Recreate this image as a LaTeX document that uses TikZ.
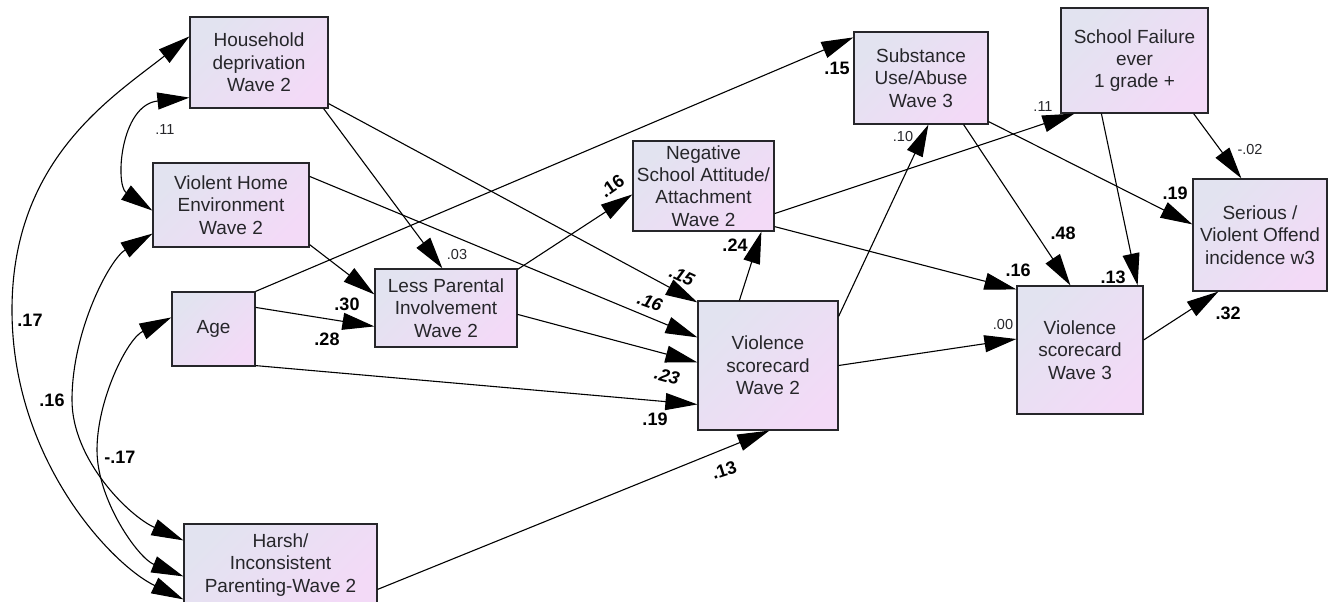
\documentclass[tikz,border=0pt]{standalone}
\usepackage{fontspec}
\setmainfont{Liberation Sans}
\usetikzlibrary{arrows.meta,calc}
\definecolor{boxA}{RGB}{226,227,240}
\definecolor{boxB}{RGB}{243,218,247}
\definecolor{ink}{RGB}{38,38,42}
\begin{document}
\begin{tikzpicture}[x=1pt,y=-1pt,
  var/.style={draw=ink, line width=1.2pt, top color=boxA, bottom color=boxB,
    shading angle=45, text=ink, align=center, inner sep=0pt,
    font=\fontsize{19}{22.3}\selectfont},
  tip/.tip={Triangle[length=32pt,width=17pt]},
  effect/.style={line width=1.1pt, -tip},
  covar/.style={line width=1.1pt, tip-tip},
  coef/.style={font=\bfseries\fontsize{18}{18}\selectfont, text=black, inner sep=0pt},
  slant/.style={font=\bfseries\itshape\fontsize{18}{18}\selectfont, text=black, inner sep=0pt},
  weak/.style={font=\fontsize{14.5}{14.5}\selectfont, text=ink, inner sep=0pt},
]
\useasboundingbox (0,0) rectangle (1328,602);

% observed variables
\node[var, minimum width=138pt, minimum height=91pt]  (HH)  at (259,62.5)   {Household\\deprivation\\Wave 2};
\node[var, minimum width=156pt, minimum height=84pt]  (VH)  at (231,205)    {Violent Home\\Environment\\Wave 2};
\node[var, minimum width=83pt,  minimum height=74pt]  (AG)  at (213.5,329)  {Age};
\node[var, minimum width=142pt, minimum height=78pt]  (LP)  at (446,308)    {Less Parental\\Involvement\\Wave 2};
\node[var, minimum width=193pt, minimum height=82pt]  (HP)  at (280.5,565)  {Harsh/\\Inconsistent\\Parenting-Wave 2};
\node[var, minimum width=141pt, minimum height=90pt]  (NS)  at (703.5,186)  {Negative\\School Attitude/\\Attachment\\Wave 2};
\node[var, minimum width=140pt, minimum height=129pt] (VW2) at (768,365.5)  {Violence\\scorecard\\Wave 2};
\node[var, minimum width=134pt, minimum height=92pt]  (SU)  at (921,78)     {Substance\\Use/Abuse\\Wave 3};
\node[var, minimum width=147pt, minimum height=105pt] (SF)  at (1134.5,60.5){School Failure\\ever\\1 grade +};
\node[var, minimum width=134pt, minimum height=112pt] (SV)  at (1260,235)   {Serious /\\Violent Offend\\incidence w3};
\node[var, minimum width=126pt, minimum height=128pt] (VW3) at (1080,350)   {Violence\\scorecard\\Wave 3};

% directed paths
\draw[effect] ($(HH.south east)+(-5,0)$)  -- ($(LP.north west)+(68,0)$);
\draw[effect] ($(HH.south east)+(0,-5)$)  -- ($(VW2.north west)+(0,2)$);
\draw[effect] ($(VH.north east)+(0,14)$)  -- ($(VW2.north west)+(0,37)$);
\draw[effect] ($(VH.south east)+(0,-3)$)  -- ($(LP.north west)+(0,26)$);
\draw[effect] ($(AG.north east)+(0,16)$)  -- ($(LP.north west)+(0,58)$);
\draw[effect] (AG.north east)             -- ($(SU.north west)+(0,6)$);
\draw[effect] ($(AG.south east)+(0,-1)$)  -- ($(VW2.north west)+(0,104)$);
\draw[effect] ($(LP.north east)+(0,1)$)   -- ($(NS.north west)+(0,54)$);
\draw[effect] ($(LP.north east)+(0,46)$)  -- ($(VW2.north west)+(0,62)$);
\draw[effect] ($(HP.north east)+(0,66)$)  -- ($(VW2.south west)+(72,0)$);
\draw[effect] ($(VW2.north west)+(42,0)$) -- ($(NS.south west)+(129,0)$);
\draw[effect] ($(VW2.north east)+(0,16)$) -- ($(SU.south west)+(75,0)$);
\draw[effect] (VW2.east)                  -- ($(VW3.west)+(0,-11)$);
\draw[effect] ($(NS.south east)+(0,-5)$)  -- ($(VW3.north west)+(0,4)$);
\draw[effect] ($(NS.south east)+(0,-18)$) -- ($(SF.south west)+(14,0)$);
\draw[effect] ($(SU.south east)+(-25,0)$) -- ($(VW3.north west)+(54,0)$);
\draw[effect] ($(SU.south east)+(0,-3)$)  -- ($(SV.north west)+(0,46)$);
\draw[effect] ($(SF.south west)+(41,0)$)  -- ($(VW3.north east)+(-6,0)$);
\draw[effect] ($(SF.south east)+(-15,0)$) -- ($(SV.north west)+(49,0)$);
\draw[effect] ($(VW3.east)+(0,-10)$)      -- ($(SV.south west)+(26,0)$);

% correlations among the exogenous variables
\draw[covar] ($(HH.south west)+(0,-11)$) .. controls (120,105) and (115,185) .. ($(VH.south west)+(0,-37)$);
\draw[covar] ($(HH.north west)+(0,20)$) .. controls (111,98) and (12,160) .. (12,310)
             .. controls (12,460) and (112,565) .. ($(HP.north west)+(0,76)$);
\draw[covar] ($(VH.south west)+(0,-14)$) .. controls (110,259) and (72,330) .. (72,400)
             .. controls (72,460) and (129,516) .. ($(HP.north west)+(0,17)$);
\draw[covar] ($(AG.north west)+(0,26)$) .. controls (127,339) and (97,400) .. (97,450)
             .. controls (97,500) and (138,558) .. ($(HP.north west)+(0,53)$);

% coefficients
\node[weak] (c01) at (457,255)  {.03};
\node[slant, rotate=-25] (c02) at (682,276) {.15};
\node[slant, rotate=-20] (c03) at (650,302) {.16};
\node[slant, rotate=-15] (c04) at (667,376) {.23};
\node[coef] (c05) at (655,419)  {.19};
\node[coef, rotate=18] (c06) at (724,470) {.13};
\node[coef] (c07) at (735,245)  {.24};
\node[coef, rotate=35] (c08) at (612,186) {.16};
\node[coef] (c09) at (837,68)   {.15};
\node[coef] (c10) at (347,304)  {.30};
\node[coef] (c11) at (327,339)  {.28};
\node[weak] (c12) at (903,137)  {.10};
\node[weak] (c13) at (1003,325) {.00};
\node[coef] (c14) at (1018,270) {.16};
\node[weak] (c15) at (1043,107) {.11};
\node[coef] (c16) at (1063,233) {.48};
\node[coef] (c17) at (1175,193) {.19};
\node[coef] (c18) at (1113,277) {.13};
\node[weak] (c19) at (1250,150) {-.02};
\node[coef] (c20) at (1228,313) {.32};
\node[weak] (c21) at (165,130)  {.11};
\node[coef] (c22) at (30,320)   {.17};
\node[coef] (c23) at (52,400)   {.16};
\node[coef] (c24) at (120,457)  {-.17};
\end{tikzpicture}
\end{document}
